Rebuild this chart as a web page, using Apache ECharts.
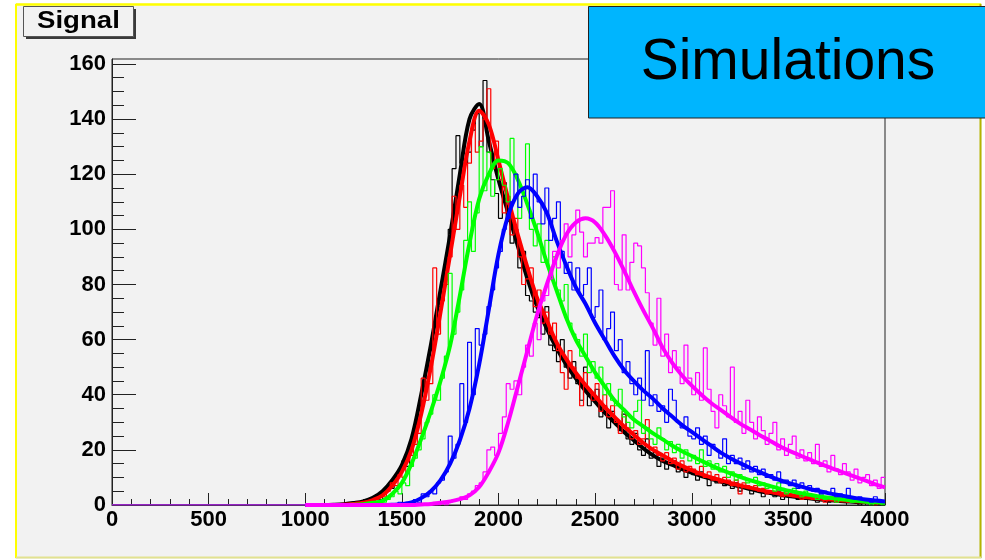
<!DOCTYPE html>
<html>
<head>
<meta charset="utf-8">
<script src="https://cdn.jsdelivr.net/npm/echarts@6/dist/echarts.min.js"></script>
<style>
html, body { margin: 0; padding: 0; background: #ffffff; }
#chart { width: 985px; height: 560px; }
</style>
</head>
<body>
<div id="chart"></div>
<script>
// Histogram binning: 20-unit bins starting at 1200 (all bins below are empty)
const binStart = 1200;
const binWidth = 20;
const xMin = 0;
const xMax = 4000;
const yMax = 161.8;

// Tick positions
const xMajorTicks = [0, 500, 1000, 1500, 2000, 2500, 3000, 3500, 4000];
const yMajorTicks = [0, 20, 40, 60, 80, 100, 120, 140, 160];
const yMinorTicks = [5, 10, 15, 25, 30, 35, 45, 50, 55, 65, 70, 75, 85, 90, 95,
  105, 110, 115, 125, 130, 135, 145, 150, 155];

// Bin contents, 1200 .. 3980
const blackCounts = [
  0, 0, 1, 0, 1,   1, 2, 1, 3, 2,   4, 7, 6, 10, 12,   16, 14, 23, 25, 32,
  38, 46, 56, 60, 72,   80, 84, 100, 122, 134,   124, 124, 128, 136, 142,
  130, 154, 128, 118, 113,   104, 117, 103, 95, 100,   86, 92, 76, 74, 70,
  68, 62, 72, 58, 56,   52, 60, 50, 46, 52,   44, 38, 50, 36, 40,
  42, 32, 36, 28, 34,   30, 27, 33, 24, 22,   26, 20, 18, 24, 17,
  19, 14, 17, 13, 15,   16, 12, 14, 10, 13,   11, 9, 12, 10, 7,
  10, 8, 9, 7, 8,   6, 8, 5, 7, 6,   4, 6, 5, 3, 5,
  4, 3, 5, 2, 4,   3, 3, 2, 4, 2,   2, 3, 1, 2, 2,
  1, 2, 1, 2, 1,   1, 1, 2, 0, 1,   1, 0, 1, 1, 0
];
const redCounts = [
  0, 0, 0, 1, 0,   1, 0, 1, 2, 3,   3, 5, 8, 7, 11,   10, 16, 18, 22, 26,
  46, 38, 44, 86, 62,   74, 80, 90, 112, 100,   116, 108, 124, 138, 128,
  132, 140, 151, 122, 132,   118, 106, 112, 98, 104,   90, 80, 82, 86, 72,
  78, 66, 70, 62, 66,   56, 48, 42, 56, 50,   46, 36, 48, 42, 38,
  44, 34, 40, 32, 36,   30, 26, 34, 28, 24,   27, 22, 24, 31, 20,
  21, 18, 16, 19, 15,   17, 13, 16, 12, 14,   13, 11, 14, 10, 12,
  9, 11, 8, 10, 9,   7, 9, 4, 8, 7,   6, 7, 5, 6, 4,
  5, 4, 6, 3, 4,   4, 3, 4, 2, 3,   3, 2, 3, 2, 1,
  2, 3, 1, 2, 2,   1, 2, 1, 2, 1,   1, 2, 0, 1, 1
];
const greenCounts = [
  0, 0, 0, 0, 0,   0, 0, 1, 0, 1,   1, 2, 3, 5, 4,   8, 7, 14, 17, 20,
  24, 30, 33, 40, 38,   46, 54, 84, 62, 70,   78, 96, 110, 92, 106,
  130, 114, 128, 112, 118,   122, 116, 110, 133, 120,   104, 112, 131, 100, 94,
  102, 88, 96, 82, 90,   78, 74, 80, 66, 62,   60, 54, 62, 48, 52,
  46, 50, 40, 44, 38,   36, 42, 32, 30, 28,   34, 38, 26, 28, 24,
  22, 28, 24, 20, 23,   19, 22, 17, 20, 16,   18, 15, 20, 14, 16,
  13, 15, 12, 14, 10,   12, 9, 11, 10, 8,   9, 10, 7, 8, 6,
  7, 5, 8, 6, 4,   5, 6, 4, 3, 5,   4, 3, 2, 4, 2,
  3, 2, 1, 3, 2,   2, 1, 2, 1, 1,   2, 0, 1, 1, 0
];
const blueCounts = [
  0, 0, 0, 0, 0,   0, 0, 0, 0, 0,   0, 0, 0, 0, 1,   0, 1, 0, 2, 1,
  4, 3, 5, 4, 8,   9, 12, 25, 17, 22,   44, 30, 59, 40, 64,
  58, 62, 72, 78, 86,   92, 100, 104, 110, 120,   108, 112, 118, 104, 120,
  110, 102, 115, 96, 104,   110, 92, 84, 88, 78,   86, 76, 80, 86, 68,
  72, 78, 60, 64, 70,   56, 60, 48, 52, 44,   40, 46, 38, 56, 36,
  40, 34, 36, 30, 42,   38, 30, 28, 32, 25,   24, 28, 22, 25, 18,
  22, 20, 17, 24, 15,   18, 15, 17, 13, 16,   12, 14, 11, 13, 10,
  11, 9, 12, 8, 9,   7, 9, 6, 8, 6,   7, 5, 6, 4, 5,
  4, 6, 3, 4, 3,   6, 3, 2, 3, 2,   2, 1, 3, 2, 1
];
const magentaCounts = [
  0, 0, 0, 0, 0,   0, 0, 0, 0, 0,   0, 0, 0, 0, 0,   0, 0, 0, 0, 0,
  0, 0, 0, 1, 0,   1, 0, 1, 2, 2,   3, 2, 4, 5, 7,
  8, 12, 20, 21, 18,   26, 32, 44, 42, 45,   40, 50, 58, 54, 66,
  60, 74, 76, 82, 92,   86, 96, 102, 90, 98,   107, 99, 90, 95, 95,
  97, 95, 108, 108, 114,   80, 78, 98, 78, 88,   95, 94, 86, 77, 66,
  58, 75, 54, 62, 48,   56, 50, 44, 58, 46,   40, 48, 38, 57, 42,
  34, 28, 40, 36, 32,   50, 30, 34, 26, 38,   30, 24, 32, 27, 22,
  26, 30, 20, 24, 18,   22, 25, 17, 20, 16,   19, 15, 22, 14, 16,
  12, 18, 13, 11, 15,   12, 9, 13, 8, 10,   11, 7, 9, 6, 10
];

// Fitted curves, sampled every 50 units from 1000 to 4000
const fitX = [
  1000, 1050, 1100, 1150, 1200, 1250, 1300, 1350, 1400, 1450,
  1500, 1550, 1600, 1650, 1700, 1750, 1800, 1850, 1900, 1950,
  2000, 2050, 2100, 2150, 2200, 2250, 2300, 2350, 2400, 2450,
  2500, 2550, 2600, 2650, 2700, 2750, 2800, 2850, 2900, 2950,
  3000, 3050, 3100, 3150, 3200, 3250, 3300, 3350, 3400, 3450,
  3500, 3550, 3600, 3650, 3700, 3750, 3800, 3850, 3900, 3950, 4000
];
const blackFit = [
  0, 0, 0, 0.1, 0.3, 0.7, 1.3, 2.6, 5, 9,
  14.5, 24, 40, 58, 78, 98, 120, 140, 145.5, 132,
  118, 106, 94, 82, 72, 64, 57, 51, 46, 41.5,
  37.5, 33.5, 30, 26.5, 23.5, 20.5, 18, 16, 14.5, 13,
  11.7, 10.5, 9.5, 8.5, 7.6, 6.7, 5.8, 5, 4.4, 3.8,
  3.3, 2.9, 2.5, 2.1, 1.8, 1.5, 1.3, 1.1, 1.0, 0.8, 0.7
];
const redFit = [
  0, 0, 0, 0, 0.1, 0.4, 0.8, 1.8, 3.5, 7,
  12, 20, 33, 50, 70, 91, 112, 132, 143, 138,
  125, 111, 98, 86, 75, 67, 59, 53, 48, 43.5,
  39.5, 35.5, 32, 28.5, 25.5, 22.5, 20, 18, 16, 14.2,
  12.6, 11.2, 10, 9, 8, 7.1, 6.3, 5.5, 4.8, 4.2,
  3.7, 3.2, 2.8, 2.4, 2.1, 1.8, 1.6, 1.4, 1.2, 1.0, 0.9
];
const greenFit = [
  0, 0, 0, 0, 0, 0.1, 0.3, 0.8, 1.5, 4,
  8, 15, 24, 34, 45, 58, 76, 95, 111, 120,
  125, 124, 118, 109, 99, 88, 78, 68, 60, 54,
  48, 43, 38, 34.5, 31, 28.5, 26, 23.8, 21.5, 19.5,
  17.8, 16, 14.4, 12.8, 11.5, 10.2, 9, 8, 7, 6,
  5.2, 4.5, 3.8, 3.2, 2.7, 2.3, 1.9, 1.5, 1.2, 1.0, 0.8
];
const blueFit = [
  0, 0, 0, 0, 0, 0, 0, 0, 0, 0.1,
  0.3, 0.9, 2.5, 5, 9, 15, 23.5, 35, 51, 71,
  91, 105, 113, 115.3, 112, 106, 96, 87, 79, 73,
  66, 60, 54, 49, 45, 41.5, 38.5, 35, 32, 29,
  26.5, 24, 21.5, 19, 17, 15.2, 13.5, 12, 10.5, 9.2,
  8, 7, 6, 5.2, 4.4, 3.7, 3.1, 2.5, 2, 1.6, 1.3
];
const magentaFit = [
  0, 0, 0, 0, 0, 0, 0, 0, 0, 0,
  0, 0, 0.2, 0.4, 0.8, 1.3, 2.1, 3.5, 6.5, 12,
  19, 30, 43, 56, 69, 80, 90, 98, 102.5, 104,
  102.5, 98, 92, 85, 77.5, 70.5, 64, 57, 51.5, 47,
  43.3, 40, 37, 34.5, 32, 29.5, 27.5, 25.4, 23.5, 21.5,
  19.8, 18.3, 16.8, 15.4, 14, 12.7, 11.4, 10.1, 8.8, 7.5, 6.4
];

const seriesDefs = [
  { name: 'black', color: '#000000', counts: blackCounts, fit: blackFit },
  { name: 'red', color: '#ff0000', counts: redCounts, fit: redFit },
  { name: 'green', color: '#00ff00', counts: greenCounts, fit: greenFit },
  { name: 'blue', color: '#0000ff', counts: blueCounts, fit: blueFit },
  { name: 'magenta', color: '#ff00ff', counts: magentaCounts, fit: magentaFit }
];

// Step outline of a histogram: empty from xMin up to the first bin, then one step per bin
function histPoints(counts) {
  const pts = [[xMin, 0]];
  counts.forEach((v, i) => pts.push([binStart + i * binWidth, v]));
  pts.push([xMax, counts[counts.length - 1]]);
  return pts;
}

const series = [];
seriesDefs.forEach(d => {
  series.push({
    name: d.name + ' hist',
    type: 'line',
    step: 'end',
    data: histPoints(d.counts),
    showSymbol: false,
    lineStyle: { color: d.color, width: 1.2 },
    animation: false,
    silent: true
  });
  series.push({
    name: d.name + ' fit',
    type: 'line',
    smooth: 0.35,
    data: fitX.map((x, i) => [x, d.fit[i]]),
    showSymbol: false,
    lineStyle: { color: d.color, width: 4 },
    animation: false,
    silent: true
  });
});

const labelFont = {
  fontFamily: '"Liberation Sans", Arial, Helvetica, sans-serif',
  fontWeight: 'bold',
  fontSize: 22,
  color: '#000000'
};

const chart = echarts.init(document.getElementById('chart'), null, { renderer: 'canvas' });
chart.setOption({
  backgroundColor: '#f2f2f2',
  animation: false,
  grid: {
    left: 112, right: 100, top: 59, bottom: 55,
    containLabel: false,
    outerBoundsMode: 'none',
    show: true,
    borderColor: '#222222',
    borderWidth: 1,
    backgroundColor: 'transparent'
  },
  xAxis: {
    type: 'value',
    min: xMin, max: xMax, interval: 500,
    axisLine: { show: true, onZero: false, lineStyle: { color: '#222222', width: 1 } },
    axisTick: { show: true, inside: true, length: 12, customValues: xMajorTicks, lineStyle: { color: '#222222' } },
    minorTick: { show: true, splitNumber: 5, length: 6, lineStyle: { color: '#222222' } },
    axisLabel: Object.assign({ margin: 4, customValues: xMajorTicks, formatter: v => String(v) }, labelFont),
    splitLine: { show: false }
  },
  yAxis: [
    {
      type: 'value',
      min: 0, max: yMax,
      axisLine: { show: true, onZero: false, lineStyle: { color: '#222222', width: 1 } },
      axisTick: { show: true, inside: true, length: 24, customValues: yMajorTicks, lineStyle: { color: '#222222' } },
      axisLabel: Object.assign({ margin: 6, customValues: yMajorTicks, padding: [0, 0, 6, 0], formatter: v => String(v) }, labelFont),
      splitLine: { show: false }
    },
    {
      type: 'value',
      min: 0, max: yMax,
      position: 'left',
      offset: 0,
      axisLine: { show: false },
      axisTick: { show: true, inside: true, length: 12, customValues: yMinorTicks, lineStyle: { color: '#222222' } },
      axisLabel: { show: false },
      splitLine: { show: false }
    }
  ],
  series: series,
  graphic: [
    // white margin outside the canvas frame
    { type: 'rect', z: 100, shape: { x: 0, y: 0, width: 985, height: 3 }, style: { fill: '#ffffff' } },
    { type: 'rect', z: 100, shape: { x: 0, y: 0, width: 15, height: 560 }, style: { fill: '#ffffff' } },
    { type: 'rect', z: 100, shape: { x: 982, y: 0, width: 3, height: 560 }, style: { fill: '#ffffff' } },
    { type: 'rect', z: 100, shape: { x: 0, y: 559, width: 985, height: 1 }, style: { fill: '#ffffff' } },
    // frame
    { type: 'line', z: 101, shape: { x1: 16, y1: 4.5, x2: 981, y2: 4.5 }, style: { stroke: '#ffff00', lineWidth: 2.5 } },
    { type: 'line', z: 101, shape: { x1: 16, y1: 4, x2: 16, y2: 558 }, style: { stroke: '#ffff00', lineWidth: 2 } },
    { type: 'line', z: 101, shape: { x1: 980.5, y1: 4, x2: 980.5, y2: 558 }, style: { stroke: '#b4b400', lineWidth: 2 } },
    { type: 'line', z: 101, shape: { x1: 16, y1: 557.5, x2: 981, y2: 557.5 }, style: { stroke: '#e2e290', lineWidth: 2 } },
    // title box
    { type: 'rect', z: 102, shape: { x: 26, y: 9, width: 110, height: 30 }, style: { fill: '#3a3a3a' } },
    { type: 'rect', z: 103, shape: { x: 23.5, y: 6.5, width: 110, height: 30 }, style: { fill: '#f2f2f2', stroke: '#555555', lineWidth: 1 } },
    {
      type: 'text', z: 104, x: 37, y: 22, scaleX: 1.2,
      style: {
        text: 'Signal', fill: '#000000',
        font: 'bold 23px "Liberation Sans", Arial, Helvetica, sans-serif',
        textAlign: 'left', textVerticalAlign: 'middle'
      }
    },
    // label box
    { type: 'rect', z: 105, shape: { x: 588.5, y: 6.5, width: 400, height: 111.5 }, style: { fill: '#00b5fe', stroke: '#222222', lineWidth: 1 } },
    {
      type: 'text', z: 106, x: 788, y: 63,
      style: {
        text: 'Simulations', fill: '#000000',
        font: '57px "Liberation Sans", Arial, Helvetica, sans-serif',
        textAlign: 'center', textVerticalAlign: 'middle'
      }
    }
  ]
});
</script>
</body>
</html>
